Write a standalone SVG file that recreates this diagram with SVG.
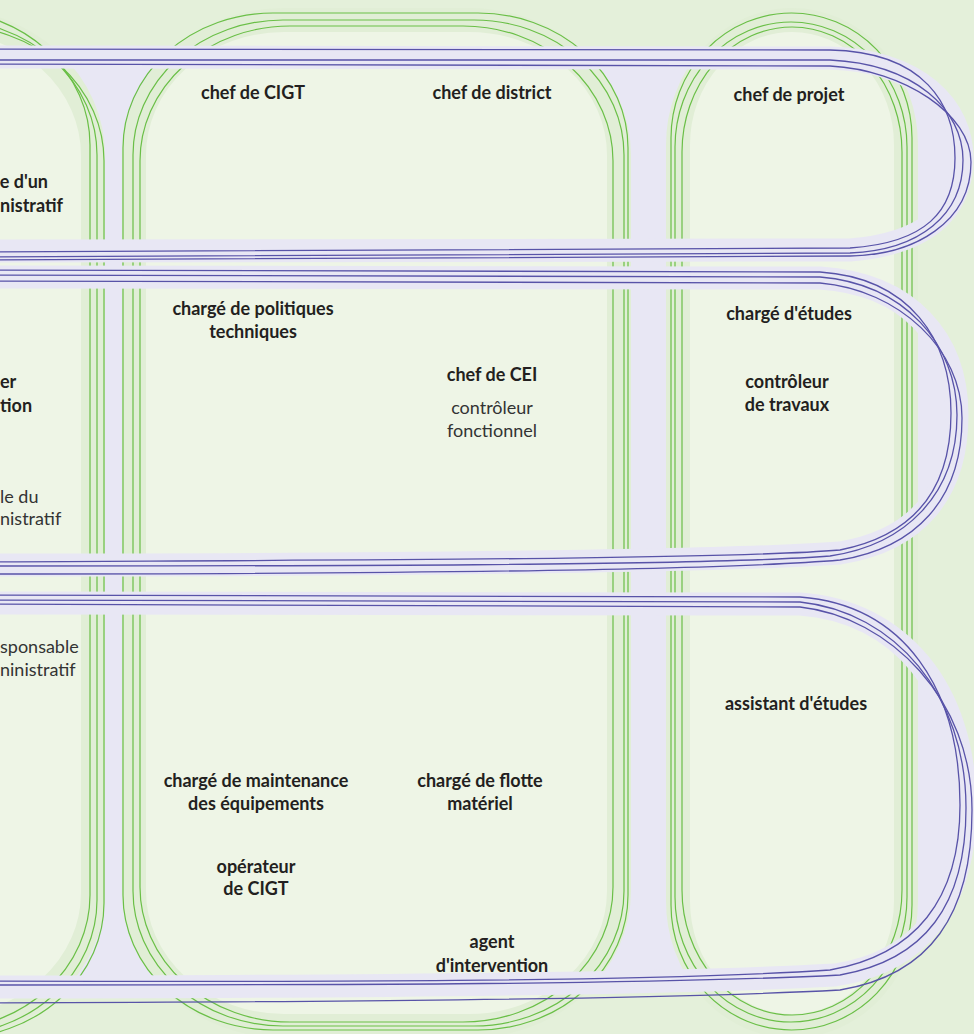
<svg xmlns="http://www.w3.org/2000/svg" width="974" height="1034" viewBox="0 0 974 1034">
<style>
.bg{fill:#e4f0da}
.rowfill{fill:#e8e7f4}
.band{fill:none;stroke:#e8e7f4;stroke-width:23}
.pl{fill:none;stroke:#5853a8;stroke-width:1.3}
.col{fill:#eef5e6;stroke:#e1eed6;stroke-width:24}
.gl{fill:none;stroke:#6abf47;stroke-width:1.2}
text{font-family:Lato,"Open Sans","Liberation Sans",sans-serif;font-size:18px;fill:#231f20;text-anchor:middle}
.b{font-weight:700}
.r{font-weight:400;fill:#333333}
.e{text-anchor:end}
.s{text-anchor:start}
</style>
<defs>
<path id="r1" d="M -40 57 L 830 58 C 920 61, 962 108, 962 158 C 962 212, 925 244, 850 250 L -40 251 Z"/>
<path id="r2" d="M -40 277 L 820 278 C 910 284, 957 340, 957 415 C 957 492, 918 540, 840 553 C 700 563, 300 565, -40 565 Z"/>
<path id="r3" d="M -40 603 L 800 604 C 900 611, 965 690, 965 806 C 965 902, 922 962, 835 975 C 650 985, 300 987, -40 987 Z"/>
</defs>
<rect class="bg" x="0" y="0" width="974" height="1034"/>
<g id="row-fills">
<use href="#r1" class="rowfill"/>
<use href="#r2" class="rowfill"/>
<use href="#r3" class="rowfill"/>
<rect class="rowfill" x="95" y="57" width="40" height="930"/>
<rect class="rowfill" x="615" y="57" width="65" height="930"/>
</g>
<g id="col-left">
<rect class="col" x="-407" y="20" width="500" height="1008" rx="150" ry="135"/>
<rect class="gl" x="-410" y="10" width="500" height="1020" rx="150" ry="135"/>
<rect class="gl" x="-403" y="20" width="500" height="1015" rx="150" ry="135"/>
<rect class="gl" x="-396" y="26" width="500" height="1012" rx="150" ry="135"/>
</g>
<g id="col-middle">
<rect class="col" x="134" y="20" width="485" height="1006" rx="150" ry="135"/>
<rect class="gl" x="123" y="13" width="505" height="1017" rx="150" ry="135"/>
<rect class="gl" x="133" y="20" width="491" height="1006" rx="150" ry="135"/>
<rect class="gl" x="140" y="26" width="473" height="996" rx="150" ry="135"/>
</g>
<g id="col-right">
<rect class="col" x="678" y="20" width="228" height="1006" rx="114" ry="125"/>
<rect class="gl" x="671" y="13" width="241" height="1017" rx="120.5" ry="125"/>
<rect class="gl" x="675" y="22" width="232" height="1000" rx="116" ry="125"/>
<rect class="gl" x="682" y="27" width="220" height="988" rx="110" ry="125"/>
</g>
<g id="connectors">
<use href="#r1" class="band"/>
<use href="#r2" class="band"/>
<use href="#r3" class="band"/>
<path class="pl" d="M -30 49 L 830 50 C 925 52, 955 105, 955 158 C 955 212, 925 243, 850 248 L -30 252"/>
<path class="pl" d="M -30 60 L 830 60 C 915 64, 963 110, 963 160 C 963 215, 920 250, 850 253 L -30 257"/>
<path class="pl" d="M -30 64 L 830 66 C 905 70, 971 115, 971 162 C 971 222, 915 255, 850 256 L -30 260"/>
<path class="pl" d="M -30 270 L 820 272 C 910 278, 951 340, 951 413 C 951 488, 915 535, 840 550 C 720 560, 300 560, -30 562"/>
<path class="pl" d="M -30 275 L 820 277 C 905 284, 957 345, 957 415 C 957 495, 905 545, 830 556 C 700 566, 300 566, -30 566"/>
<path class="pl" d="M -30 281 L 820 283 C 900 290, 962 350, 962 418 C 962 500, 915 548, 840 560 C 700 572, 300 574, -30 574"/>
<path class="pl" d="M -30 595 L 800 597 C 905 605, 960 690, 960 805 C 960 900, 915 955, 830 970 C 650 982, 300 982, -30 981"/>
<path class="pl" d="M -30 600 L 800 602 C 895 612, 966 695, 966 808 C 966 905, 925 960, 840 975 C 650 985, 300 985, -30 985"/>
<path class="pl" d="M -30 604 L 800 607 C 890 617, 972 700, 972 810 C 972 915, 930 975, 840 990 C 650 1000, 300 1002, -30 1003"/>
</g>
<g id="labels">
<text class="b" x="253" y="99">chef de CIGT</text>
<text class="b" x="492" y="99">chef de district</text>
<text class="b" x="789" y="101">chef de projet</text>
<text class="b e" x="48" y="188">e d'un</text>
<text class="b e" x="63" y="212">nistratif</text>
<text class="b" x="253" y="315">chargé de politiques</text>
<text class="b" x="253" y="338">techniques</text>
<text class="b" x="492" y="381">chef de CEI</text>
<text class="r" x="492" y="414">contrôleur</text>
<text class="r" x="492" y="437">fonctionnel</text>
<text class="b" x="789" y="320">chargé d'études</text>
<text class="b" x="787" y="388">contrôleur</text>
<text class="b" x="787" y="411">de travaux</text>
<text class="b s" x="0" y="388">er</text>
<text class="b s" x="0" y="412">tion</text>
<text class="r s" x="0" y="503">le du</text>
<text class="r s" x="0" y="525">nistratif</text>
<text class="r s" x="0" y="653">sponsable</text>
<text class="r s" x="0" y="676">ninistratif</text>
<text class="b" x="796" y="710">assistant d'études</text>
<text class="b" x="256" y="787">chargé de maintenance</text>
<text class="b" x="256" y="810">des équipements</text>
<text class="b" x="480" y="787">chargé de flotte</text>
<text class="b" x="480" y="810">matériel</text>
<text class="b" x="256" y="873">opérateur</text>
<text class="b" x="256" y="895">de CIGT</text>
<text class="b" x="492" y="948">agent</text>
<text class="b" x="492" y="972">d'intervention</text>
</g>
</svg>
